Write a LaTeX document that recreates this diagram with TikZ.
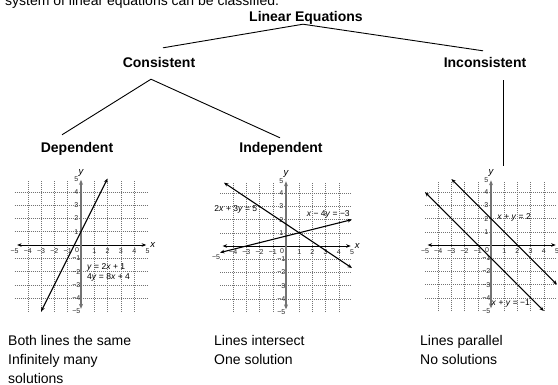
\documentclass[tikz,border=0pt]{standalone}
\usepackage{fontspec}
\setmainfont{Liberation Sans}
\usetikzlibrary{arrows.meta}
\tikzset{
  head/.style={font=\fontsize{14}{17}\selectfont\bfseries, inner sep=0pt, text height=10pt, text depth=3pt, anchor=base},
  body/.style={font=\fontsize{14}{17}\selectfont, inner sep=0pt, anchor=base west},
  branch/.style={draw=black, line width=0.9pt},
  gridline/.style={draw=black!55, line width=0.5pt, dash pattern=on 1pt off 1pt},
  tip/.tip={Stealth[length=4.5pt,width=3.6pt]},
  xaxis/.style={draw=black, line width=1pt, tip-tip},
  yaxis/.style={draw=black!55, line width=1.6pt, {Stealth[length=5pt,width=4pt]}-{Stealth[length=5pt,width=4pt]}},
  eqline/.style={draw=black, line width=1.1pt, tip-tip},
  tick/.style={font=\fontsize{7}{8}\selectfont, inner sep=0pt, text=black!85},
  axlabel/.style={font=\fontsize{9.5}{10}\selectfont\itshape, inner sep=0pt},
  eqlabel/.style={font=\fontsize{8.5}{10}\selectfont, inner sep=0pt},
}
\newcommand\plotframe[1]{%
  \foreach \i in {-4,-3,-2,-1,1,2,3,4} {
    \draw[gridline] (\i,-5) -- (\i,4.8);
    \draw[gridline] (-5,\i) -- (5,\i);
  }
  \draw[xaxis] (-4.8,0) -- (4.9,0);
  \draw[yaxis] (0,-4.8) -- (0,4.9);
  \foreach \i/\t in {-4/−4,-3/−3,-2/−2,-1/−1,1/1,2/2,3/3,4/4,5/5} {
    \node[tick] (#1x\i) at (\i,-0.45) {\t};
  }
  \foreach \i/\t in {-5/−5,-4/−4,-3/−3,-2/−2,-1/−1,1/1,2/2,3/3,4/4} {
    \node[tick] (#1y\i) at (-0.35,\i) {\t};
  }
  \node[tick] (#1y5) at (-0.35,4.95) {5};
  \node[tick] (#1o) at (-0.3,-0.4) {0};
  \node[axlabel] (#1ylab) at (0,5.45) {y};
}
\begin{document}
\begin{tikzpicture}[x=1pt,y=-1pt]
\useasboundingbox (0,0) rectangle (558,384);
\fill[white] (0,0) rectangle (558,384);

% intro text (cut off at top)
\node[body] (intro) at (5,5) {system of linear equations can be classified.};

% tree
\node[head] (le) at (306,21) {Linear Equations};
\node[head] (cons) at (159,67) {Consistent};
\node[head] (incons) at (485,67) {Inconsistent};
\node[head] (dep) at (77,152) {Dependent};
\node[head] (indep) at (281,152) {Independent};
\coordinate (g3top) at (503,166);

\draw[branch] ([xshift=-3pt]le.south) -- ([shift={(4pt,9pt)}]cons.north);
\draw[branch] ([xshift=-3pt]le.south) -- ([shift={(-2pt,6pt)}]incons.north);
\draw[branch] ([shift={(-8pt,-9pt)}]cons.south) -- ([shift={(-15pt,7pt)}]dep.north);
\draw[branch] ([shift={(-8pt,-9pt)}]cons.south) -- ([shift={(-1pt,4pt)}]indep.north);
\draw[branch] ([shift={(18pt,-10pt)}]incons.south) -- (g3top);

% graph 1: dependent
\begin{scope}[shift={(81pt,-245pt)}, x=13.3pt, y=13.3pt]
  \plotframe{ga}
  \node[tick] (gax-5) at (-5,-0.45) {−5};
  \node[axlabel] (gaxlab) at (5.4,0) {x};
  \draw[eqline] (-3,-5) -- (2,5);
  \node[eqlabel, anchor=west] (gae1) at (0.45,-1.65) {\textit{y} = 2\textit{x} + 1};
  \node[eqlabel, anchor=west] (gae2) at (0.45,-2.4) {4\textit{y} = 8\textit{x} + 4};
\end{scope}

% graph 2: independent
\begin{scope}[shift={(286pt,-246pt)}, x=13.2pt, y=13.2pt]
  \plotframe{gb}
  \node[tick] (gbx-5) at (-5.3,-0.85) {−5};
  \node[axlabel] (gbxlab) at (5.4,0) {x};
  \draw[eqline] (-4.7,4.8) -- (5,-1.667);
  \draw[eqline] (-5,-0.5) -- (5,2);
  \node[eqlabel] (gbe1) at (-3.8,2.8) {2\textit{x} + 3\textit{y} = 5};
  \node[eqlabel] (gbe2) at (3.2,2.4) {\textit{x} − 4\textit{y} = −3};
\end{scope}

% graph 3: inconsistent
\begin{scope}[shift={(491pt,-245pt)}, x=13.2pt, y=13.2pt]
  \plotframe{gc}
  \node[tick] (gcx-5) at (-5,-0.45) {−5};
  \draw[eqline] (-3,5) -- (5,-3);
  \draw[eqline] (-5,4) -- (4,-5);
  \node[eqlabel] (gce1) at (1.75,2.1) {\textit{x} + \textit{y} = 2};
  \node[eqlabel] (gce2) at (1.5,-4.4) {\textit{x} + \textit{y} = −1};
\end{scope}

% captions
\node[body] (t1a) at (8,345.4) {Both lines the same};
\node[body] (t1b) at (8,364.6) {Infinitely many};
\node[body] (t1c) at (8,383.8) {solutions};
\node[body] (t2a) at (214,345.4) {Lines intersect};
\node[body] (t2b) at (214,364.6) {One solution};
\node[body] (t3a) at (420,345.4) {Lines parallel};
\node[body] (t3b) at (420,364.6) {No solutions};
\end{tikzpicture}
\end{document}
